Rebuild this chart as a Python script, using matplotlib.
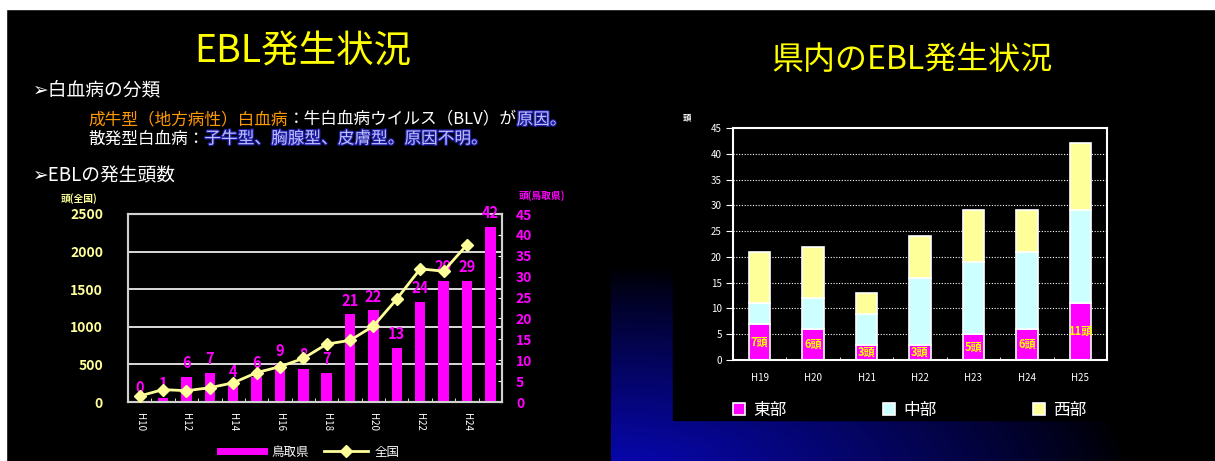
import numpy as np
import matplotlib
matplotlib.use("Agg")
import matplotlib.pyplot as plt
import matplotlib.patheffects as pe
from matplotlib.patches import Rectangle
from matplotlib.lines import Line2D

plt.rcParams['font.family'] = ['Noto Sans CJK JP', 'DejaVu Sans']

# left chart: EBL cases, Tottori (bars, right axis) and all Japan (line, left axis)
years = ['H10', 'H11', 'H12', 'H13', 'H14', 'H15', 'H16', 'H17',
         'H18', 'H19', 'H20', 'H21', 'H22', 'H23', 'H24', 'H25']
tottori = [0, 1, 6, 7, 4, 6, 9, 8, 7, 21, 22, 13, 24, 29, 29, 42]
zenkoku = [80, 165, 150, 190, 255, 390, 470, 580, 770, 820, 1010, 1370, 1770, 1740, 2090]  # H10-H24

# right chart: cases inside the prefecture by region
years2 = ['H19', 'H20', 'H21', 'H22', 'H23', 'H24', 'H25']
tobu = [7, 6, 3, 3, 5, 6, 11]
chubu = [4, 6, 6, 13, 14, 15, 18]
seibu = [10, 10, 4, 8, 10, 8, 13]

MAG = '#FF00FF'
PALE = '#FFFF99'
CYAN = '#CCFFFF'
W, H = 1215, 461

fig = plt.figure(figsize=(W / 100, H / 100), dpi=100, facecolor='black')

# background in pixel coords
bg = fig.add_axes([0, 0, 1, 1], zorder=-5)
bg.set_xlim(0, W)
bg.set_ylim(H, 0)
bg.axis('off')
bg.set_facecolor('black')

gx, gy = np.meshgrid(np.arange(611, W), np.arange(268, H))
d = np.sqrt(((gx - 611) / 520.0) ** 2 + ((gy - 478) / 212.0) ** 2)
g = np.clip(1 - d, 0, 1) ** 0.85
img = np.zeros(gx.shape + (3,))
img[..., 0] = 0.03 * g
img[..., 1] = 0.03 * g
img[..., 2] = 0.72 * g
bg.imshow(img, extent=(611, W, H, 268), aspect='auto', interpolation='bilinear', zorder=0)
bg.add_patch(Rectangle((673, 100), W - 673, 320, color='black', zorder=1))
bg.add_patch(Rectangle((0, 0), W, 9, color='white', zorder=2))
bg.add_patch(Rectangle((0, 0), 6, H, color='white', zorder=2))

# slide texts
bg.text(303, 52, 'EBL発生状況', color='#FFFF00', fontsize=27, ha='center', va='center', zorder=3)
bg.text(912, 60, '県内のEBL発生状況', color='#FFFF00', fontsize=23, ha='center', va='center', zorder=3)
bg.text(33, 90, '➢白血病の分類', color='white', fontsize=13.5, va='center', zorder=3)
bg.text(33, 176, '➢EBLの発生頭数', color='white', fontsize=13.5, va='center', zorder=3)

blue_fx = [pe.withStroke(linewidth=1.8, foreground='#1C1CA0')]


def chain(x, y, parts):
    prev = None
    for txt, col, fx in parts:
        if prev is None:
            prev = bg.text(x, y, txt, color=col, fontsize=12, va='center', zorder=3,
                           path_effects=fx)
        else:
            prev = bg.annotate(txt, xy=(1, 0.5), xycoords=prev, va='center', ha='left',
                               color=col, fontsize=12, zorder=3, path_effects=fx)


chain(88, 120, [('成牛型（地方病性）白血病', '#FF9900', None),
                ('：牛白血病ウイルス（BLV）が', 'white', None),
                ('原因。', '#C0C0FF', blue_fx)])
chain(88, 139, [('散発型白血病：', 'white', None),
                ('子牛型、胸腺型、皮膚型。原因不明。', '#C0C0FF', blue_fx)])

# ---- left chart ----
ax1 = fig.add_axes([128 / W, 59 / H, 374 / W, 188 / H])
ax1.set_facecolor('black')
x = np.arange(len(years))
ax1.set_xlim(-0.5, len(years) - 0.5)
ax1.set_ylim(0, 2500)
ax1.set_yticks(range(0, 2501, 500))
ax1.yaxis.grid(True, color='white', lw=1.2)
ax1.set_axisbelow(True)
ax1.tick_params(axis='y', length=0, labelcolor=PALE, labelsize=10, pad=18)
for lab in ax1.get_yticklabels():
    lab.set_fontweight('bold')
ax1.set_xticks(x[::2])
ax1.set_xticklabels(years[::2], rotation=-90, color='white', fontsize=7)
ax1.set_xticks(x[:-1] + 0.5, minor=True)
ax1.tick_params(axis='x', which='major', length=0, pad=8)
ax1.tick_params(axis='x', which='minor', direction='in', length=3, color='white')
for s in ax1.spines.values():
    s.set_color('#D0D0D0')
    s.set_linewidth(1.5)

ax2 = ax1.twinx()
ax2.set_ylim(0, 45)
ax2.set_yticks(range(0, 46, 5))
ax2.bar(x, tottori, width=0.45, color=MAG, zorder=2)
for i, v in enumerate(tottori):
    ax2.annotate(str(v), (i, v), xytext=(0, 4), textcoords='offset points', ha='center',
                 va='bottom', color=MAG, fontsize=10.5, fontweight='bold')
ax2.tick_params(axis='y', direction='in', length=3, color='white', labelcolor=MAG,
                labelsize=10, pad=10)
for lab in ax2.get_yticklabels():
    lab.set_fontweight('bold')
for s in ax2.spines.values():
    s.set_color('#D0D0D0')
    s.set_linewidth(1.5)

ax3 = ax1.twinx()
ax3.set_ylim(0, 2500)
ax3.plot(x[:len(zenkoku)], zenkoku, color=PALE, lw=2, marker='D', ms=6.5, mfc=PALE, mec=PALE)
ax3.yaxis.set_visible(False)
for s in ax3.spines.values():
    s.set_visible(False)

ax1.text(-0.18, 1.08, '頭(全国)', transform=ax1.transAxes, color=PALE, fontsize=7,
         fontweight='bold', va='center')
ax1.text(1.045, 1.1, '頭(鳥取県)', transform=ax1.transAxes, color=MAG, fontsize=7,
         fontweight='bold', va='center')

h1 = [Line2D([0], [0], color=MAG, lw=5),
      Line2D([0], [0], color=PALE, lw=2, marker='D', ms=6, mfc=PALE, mec=PALE)]
fig.legend(h1, ['鳥取県', '全国'], loc='center', bbox_to_anchor=(310 / W, 1 - 452 / H),
           ncol=2, frameon=False, labelcolor='white', fontsize=9, handlelength=3.5,
           columnspacing=1.2, handletextpad=0.6)

# ---- right chart ----
ax4 = fig.add_axes([733 / W, 101 / H, 374 / W, 232 / H])
ax4.set_facecolor('black')
x2 = np.arange(len(years2))
tobu_a = np.array(tobu)
chubu_a = np.array(chubu)
seibu_a = np.array(seibu)
b1 = ax4.bar(x2, tobu_a, 0.4, color=MAG, edgecolor='white', lw=1.2, zorder=2)
b2 = ax4.bar(x2, chubu_a, 0.4, bottom=tobu_a, color=CYAN, edgecolor='white', lw=1.2, zorder=2)
b3 = ax4.bar(x2, seibu_a, 0.4, bottom=tobu_a + chubu_a, color=PALE, edgecolor='white',
             lw=1.2, zorder=2)
for i, v in enumerate(tobu):
    ax4.text(i, v / 2, f'{v}頭', color='#FFFF00', fontsize=8, fontweight='bold',
             ha='center', va='center', zorder=3)
ax4.set_xlim(-0.5, len(years2) - 0.5)
ax4.set_ylim(0, 45)
ax4.set_yticks(range(0, 46, 5))
ax4.yaxis.grid(True, color='white', ls=(0, (1, 1.5)), lw=0.8)
ax4.set_axisbelow(True)
ax4.tick_params(axis='y', direction='out', length=5, color='white', labelcolor='white',
                labelsize=7, pad=3, width=0.8)
ax4.set_xticks(x2)
ax4.set_xticklabels(years2, color='white', fontsize=7)
ax4.set_xticks(x2[:-1] + 0.5, minor=True)
ax4.tick_params(axis='x', which='major', length=0, pad=9)
ax4.tick_params(axis='x', which='minor', direction='in', length=2, color='white')
for s in ax4.spines.values():
    s.set_color('white')
    s.set_linewidth(1.5)
ax4.text(-0.134, 1.043, '頭', transform=ax4.transAxes, color='white', fontsize=6,
         fontweight='bold', va='center')

fig.legend([b1, b2, b3], ['東部', '中部', '西部'], loc='center',
           bbox_to_anchor=(910 / W, 1 - 410 / H), ncol=3, frameon=False,
           labelcolor='white', fontsize=12, handlelength=0.7, handleheight=0.7,
           handletextpad=0.5, columnspacing=5.8)

fig.savefig('out.png', dpi=100, facecolor='black')
